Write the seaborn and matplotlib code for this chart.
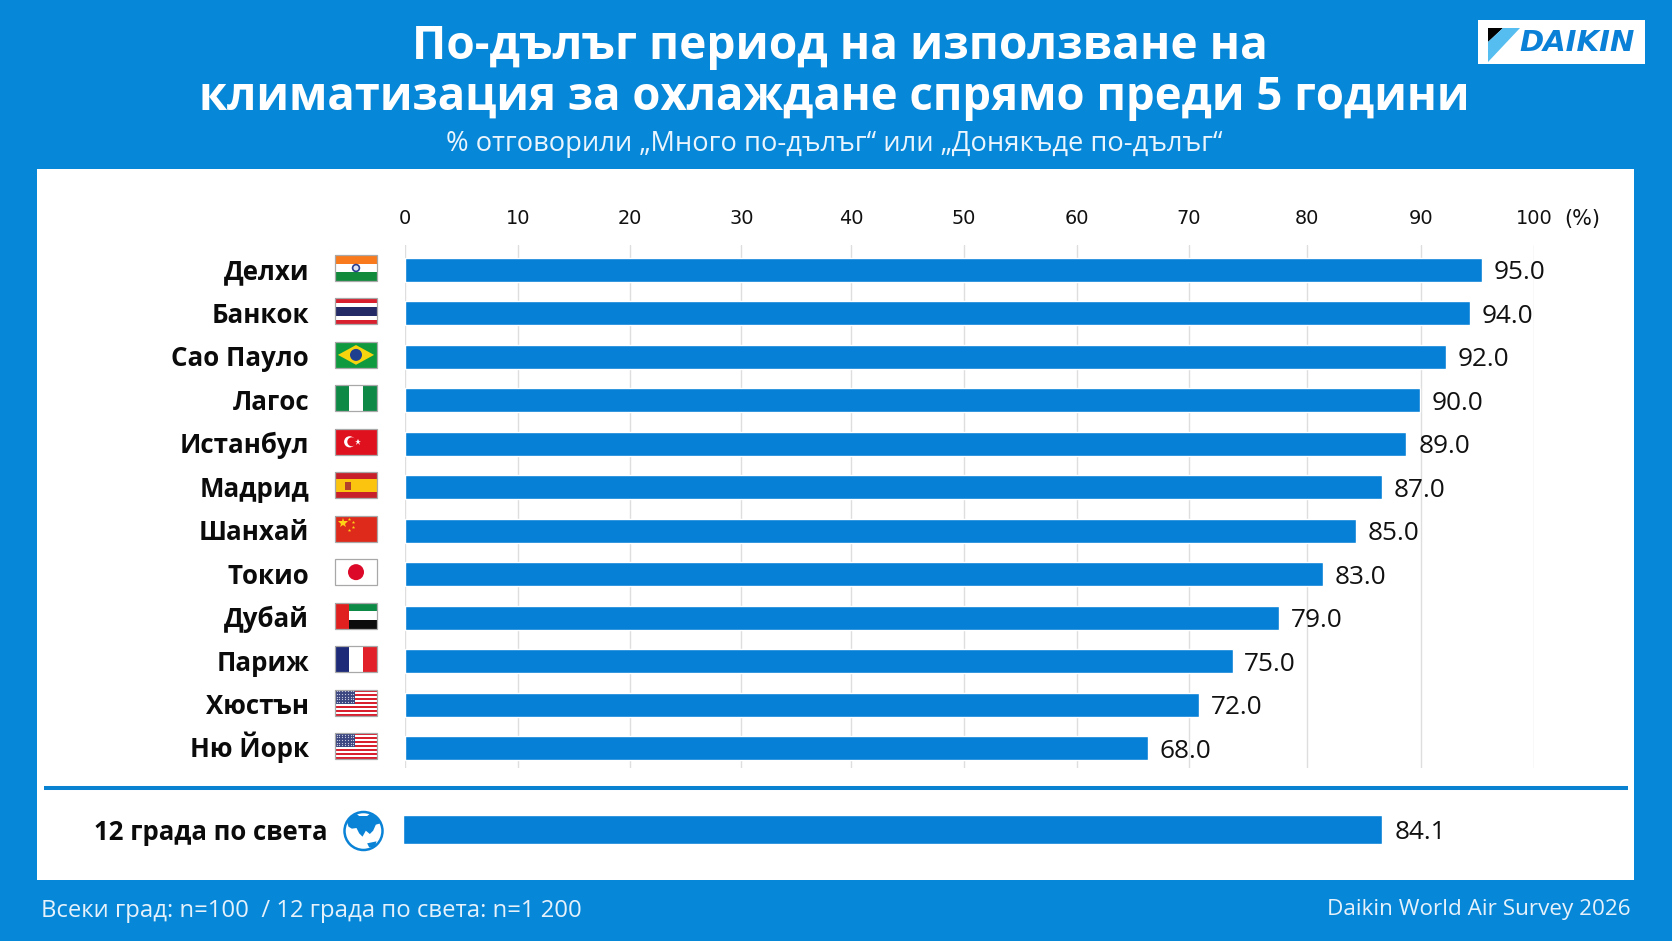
import numpy as np
import pandas as pd
import seaborn as sns
import matplotlib.pyplot as plt
from matplotlib.patches import Rectangle, Circle, Polygon
from matplotlib.transforms import ScaledTranslation

# ----------------------
# Data
# ----------------------
cities = ["Делхи", "Банкок", "Сао Пауло", "Лагос", "Истанбул", "Мадрид",
          "Шанхай", "Токио", "Дубай", "Париж", "Хюстън", "Ню Йорк"]
# printed values
values = [95.0, 94.0, 92.0, 90.0, 89.0, 87.0, 85.0, 83.0, 79.0, 75.0, 72.0, 68.0]
# bar lengths as drawn in the picture (they differ slightly from the printed numbers)
bar_lengths = [95.4, 94.3, 92.2, 89.9, 88.7, 86.5, 84.2, 81.3, 77.4, 73.3, 70.3, 65.8]
flag_codes = ["in", "th", "br", "ng", "tr", "es", "cn", "jp", "ae", "fr", "us", "us"]
x_tick_labels = ["0", "10", "20", "30", "40", "50", "60", "70", "80", "90", "100"]
# where the picture puts those ticks, the spacing is not quite even there
x_tick_positions = [0, 10, 19.9, 29.8, 39.5, 49.5, 59.5, 69.4, 79.9, 90, 100]

world_label = "12 града по света"
world_value = 84.1
world_bar_length = 86.7

title_lines = ["По-дълъг период на използване на",
               "климатизация за охлаждане спрямо преди 5 години"]
subtitle = "% отговорили „Много по-дълъг“ или „Донякъде по-дълъг“"
footer_left = "Всеки град: n=100  / 12 града по света: n=1 200"
footer_right = "Daikin World Air Survey 2026"

BG = "#0787d8"
BAR = "#0580d6"
W, H = 1672, 941

sns.set_style("white")
plt.rcParams["font.family"] = ["Open Sans", "DejaVu Sans"]

df = pd.DataFrame({"city": cities, "length": bar_lengths, "value": values})
df_world = pd.DataFrame({"city": [world_label], "length": [world_bar_length]})


def px_axes(fig, left, top, right, bottom):
    return fig.add_axes([left / W, 1 - bottom / H, (right - left) / W, (bottom - top) / H])


fig = plt.figure(figsize=(W / 100, H / 100), dpi=100, facecolor=BG)

# ----------------------
# Background layer in pixel coordinates: panel, titles, logo, flags
# ----------------------
bg = fig.add_axes([0, 0, 1, 1], zorder=0)
bg.set_xlim(0, W)
bg.set_ylim(H, 0)
bg.axis("off")
bg.add_patch(Rectangle((37, 169), 1597, 711, fc="white", ec="none"))
bg.plot([44, 1628], [788, 788], color="#0a82d2", lw=2.9, solid_capstyle="butt")

bg.text(840, 59, title_lines[0], color="white", fontsize=33.1, fontweight="bold", ha="center", va="baseline")
bg.text(834, 110, title_lines[1], color="white", fontsize=32.8, fontweight="bold", ha="center", va="baseline")
bg.text(834, 151, subtitle, color="#eaf5fd", fontsize=19.6, ha="center", va="baseline")
bg.text(41, 911, footer_left, color="#e6f2fb", fontsize=17.2, ha="left", va="center")
bg.text(1631, 910, footer_right, color="#e6f2fb", fontsize=16.2, ha="right", va="center")
bg.text(1564, 219, "(%)", color="#111111", fontsize=15, family=["DejaVu Sans"], ha="left", va="center")

# logo
bg.add_patch(Rectangle((1478, 20), 167, 44, fc="white", ec="none"))
bg.add_patch(Polygon([(1488, 28), (1503, 28), (1488, 42)], fc="black", ec="none"))
bg.add_patch(Polygon([(1503, 28), (1520, 28), (1488, 62), (1488, 42)], fc="#55bdf0", ec="none"))
bg.text(1577, 43, "DAIKIN", color="#0a80d6", fontsize=21, family=["DejaVu Sans"],
        fontweight="bold", fontstyle="italic", ha="center", va="center")


def draw_flag(code, x0, y0, w=42, h=26):
    def band(fx0, fy0, fx1, fy1, color):
        bg.add_patch(Rectangle((x0 + fx0 * w, y0 + fy0 * h), (fx1 - fx0) * w, (fy1 - fy0) * h,
                               fc=color, ec="none", zorder=2))

    def pt(fx, fy):
        return x0 + fx * w, y0 + fy * h

    if code == "in":
        band(0, 0, 1, 1 / 3, "#f97a1c")
        band(0, 1 / 3, 1, 2 / 3, "white")
        band(0, 2 / 3, 1, 1, "#118a3c")
        bg.add_patch(Circle(pt(.5, .5), 3.4, fc="#dfe4f2", ec="#2a3d8f", lw=1.2, zorder=3))
    elif code == "th":
        band(0, 0, 1, 1, "white")
        band(0, 0, 1, 1 / 6, "#d8202f")
        band(0, 5 / 6, 1, 1, "#d8202f")
        band(0, 1 / 3, 1, 2 / 3, "#232a66")
    elif code == "br":
        band(0, 0, 1, 1, "#109a3f")
        bg.add_patch(Polygon([pt(.07, .5), pt(.5, .12), pt(.93, .5), pt(.5, .88)], fc="#f7d40e", ec="none", zorder=3))
        bg.add_patch(Circle(pt(.5, .5), 6, fc="#1f3f8f", ec="none", zorder=4))
    elif code == "ng":
        band(0, 0, 1, 1, "#0f8a46")
        band(1 / 3, 0, 2 / 3, 1, "white")
    elif code == "tr":
        band(0, 0, 1, 1, "#e0111f")
        bg.add_patch(Circle(pt(.35, .5), 5.6, fc="white", ec="none", zorder=3))
        bg.add_patch(Circle(pt(.40, .5), 4.5, fc="#e0111f", ec="none", zorder=4))
        bg.plot(*pt(.55, .5), marker="*", ms=4.5, color="white", mew=0, zorder=5)
    elif code == "es":
        band(0, 0, 1, 1, "#c8202a")
        band(0, .25, 1, .75, "#fbc40f")
        bg.add_patch(Rectangle(pt(.24, .36), 6, 8, fc="#b3402a", ec="none", zorder=3))
    elif code == "cn":
        band(0, 0, 1, 1, "#de2a1b")
        bg.plot(*pt(.18, .27), marker="*", ms=7, color="#fcd116", mew=0, zorder=3)
        for fx, fy in [(.34, .12), (.42, .24), (.42, .42), (.34, .56)]:
            bg.plot(*pt(fx, fy), marker="*", ms=2.6, color="#fcd116", mew=0, zorder=3)
    elif code == "jp":
        band(0, 0, 1, 1, "white")
        bg.add_patch(Circle(pt(.5, .5), 8, fc="#dc0a28", ec="none", zorder=3))
    elif code == "ae":
        band(0, 0, 1, 1 / 3, "#0e8a47")
        band(0, 1 / 3, 1, 2 / 3, "white")
        band(0, 2 / 3, 1, 1, "#0c0c0c")
        band(0, 0, 1 / 3, 1, "#e0201f")
    elif code == "fr":
        band(0, 0, 1 / 3, 1, "#1c2a78")
        band(1 / 3, 0, 2 / 3, 1, "white")
        band(2 / 3, 0, 1, 1, "#e2202a")
    elif code == "us":
        band(0, 0, 1, 1, "white")
        for s in range(0, 13, 2):
            band(0, s / 13, 1, (s + 1) / 13, "#d8202f")
        band(0, 0, .48, 7 / 13, "#3c4680")
        for r in range(5):
            for c in range(7):
                fx, fy = pt(.04 + c * .066, .06 + r * .105)
                bg.plot(fx, fy, marker="o", ms=0.9, color="#c9cde2", mew=0, zorder=3)
    bg.add_patch(Rectangle((x0, y0), w, h, fc="none", ec="#a8a8a8", lw=0.9, zorder=6))


for i, code in enumerate(flag_codes):
    draw_flag(code, 335, 255 + i * 43.45)

gx, gy = 363.5, 831
bg.add_patch(Circle((gx, gy), 19, fc="white", ec="#0a82d6", lw=1.8, zorder=2))
land = [(52, 65), (62, 48), (78, 38), (88, 46), (112, 46), (122, 38), (140, 48), (152, 68), (138, 72),
        (130, 90), (120, 100), (108, 90), (98, 108), (88, 98), (80, 82), (66, 84), (56, 78)]
islands = [(112, 128), (140, 122), (135, 140), (118, 140)]
for shape in (land, islands):
    bg.add_patch(Polygon([(gx + (a - 101) / 3, gy + (b - 91) / 3) for a, b in shape],
                         fc="#0a82d6", ec="none", zorder=3))

# ----------------------
# City bars
# ----------------------
ax = px_axes(fig, 405, 245, 1534, 768)
ax.set_zorder(1)
ax.patch.set_alpha(0)
sns.barplot(data=df, y="city", x="length", color=BAR, width=0.55, saturation=1, ax=ax, zorder=3)
ax.set_xlim(0, 100)
ax.set_ylim(11.46, -0.575)
ax.set_xlabel("")
ax.set_ylabel("")
ax.set_xticks(x_tick_positions, labels=x_tick_labels)
ax.xaxis.tick_top()
ax.tick_params(axis="x", length=0, pad=12.5, labelsize=13.9, labelcolor="#111111")
for lab in ax.get_xticklabels():
    lab.set_family(["DejaVu Sans"])
ax.tick_params(axis="y", length=0, pad=69)
# baseline alignment so that the tall Й does not push its label down
baseline_shift = ScaledTranslation(0, -6.8 / 72, fig.dpi_scale_trans)
for lab in ax.get_yticklabels():
    lab.set_fontsize(18.6)
    lab.set_fontweight("bold")
    lab.set_color("#0b0b0b")
    lab.set_verticalalignment("baseline")
    lab.set_transform(lab.get_transform() + baseline_shift)
ax.xaxis.grid(True, color="#dedede", lw=1)
ax.set_axisbelow(True)
sns.despine(ax=ax, left=True, bottom=True, top=True, right=True)
city_labels = ax.bar_label(ax.containers[0], labels=[f"{v:.1f}" for v in values], padding=8.5,
                           fontsize=18.8, color="#111111")
for t in city_labels:
    t.set_verticalalignment("center_baseline")

# ----------------------
# All cities bar
# ----------------------
ax2 = px_axes(fig, 403, 800, 1532, 859)
ax2.set_zorder(1)
ax2.patch.set_alpha(0)
sns.barplot(data=df_world, y="city", x="length", color=BAR, width=0.5, saturation=1, ax=ax2)
ax2.set_xlim(0, 100)
ax2.set_ylim(0.5, -0.5)
ax2.set_xlabel("")
ax2.set_ylabel("")
ax2.set_xticks([])
ax2.tick_params(axis="y", length=0, pad=54)
for lab in ax2.get_yticklabels():
    lab.set_fontsize(18.5)
    lab.set_fontweight("bold")
    lab.set_color("#0b0b0b")
    lab.set_verticalalignment("center_baseline")
sns.despine(ax=ax2, left=True, bottom=True, top=True, right=True)
world_labels = ax2.bar_label(ax2.containers[0], labels=[f"{world_value:.1f}"], padding=9,
                             fontsize=18.8, color="#111111")
for t in world_labels:
    t.set_verticalalignment("center_baseline")

fig.savefig("out.png", dpi=100, facecolor=BG)
